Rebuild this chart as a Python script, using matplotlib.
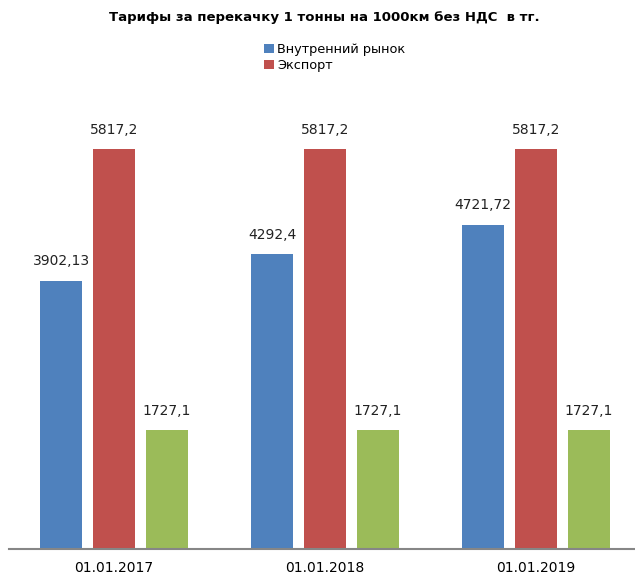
import matplotlib.pyplot as plt
import numpy as np

categories = ['01.01.2017', '01.01.2018', '01.01.2019']
domestic = [3902.13, 4292.4, 4721.72]
export = [5817.2, 5817.2, 5817.2]
third = [1727.1, 1727.1, 1727.1]
domestic_labels = ['3902,13', '4292,4', '4721,72']
export_labels = ['5817,2', '5817,2', '5817,2']
third_labels = ['1727,1', '1727,1', '1727,1']

colors = ['#4F81BD', '#C0504D', '#9BBB59']

fig = plt.figure(figsize=(6.35, 5.74), dpi=100)
ax = fig.add_axes([8.5 / 635, 25 / 574, 633 / 635, 481 / 574])

x = np.arange(len(categories))
w = 0.2
step = 0.25
series = [(domestic, domestic_labels, 'Внутренний рынок'),
          (export, export_labels, 'Экспорт'),
          (third, third_labels, None)]
handles = []
for i, (vals, labs, name) in enumerate(series):
    bars = ax.bar(x + (i - 1) * step, vals, w, color=colors[i],
                  linewidth=0, label=name)
    if name:
        handles.append(bars)
    for b, t in zip(bars, labs):
        ax.annotate(t, (b.get_x() + b.get_width() / 2, b.get_height()),
                    xytext=(0, 9), textcoords='offset points',
                    ha='center', va='bottom', fontsize=10, color='#222222')

ax.set_xlim(-0.5, 2.5)
ax.set_ylim(0, 7000)
ax.set_xticks(x)
ax.set_xticklabels(categories, fontsize=10)
ax.tick_params(axis='x', length=0, pad=9)
ax.set_yticks([])
for s in ['top', 'right', 'left']:
    ax.spines[s].set_visible(False)
ax.spines['bottom'].set_color('#868686')
ax.spines['bottom'].set_linewidth(1.5)

fig.text(0.51, 1 - 18 / 574, 'Тарифы за перекачку 1 тонны на 1000км без НДС  в тг.',
         ha='center', va='center', fontsize=9.5, fontweight='bold')
fig.legend(handles, ['Внутренний рынок', 'Экспорт'],
           loc='upper left', bbox_to_anchor=(258 / 635, 1 - 37 / 574),
           frameon=False, fontsize=9.3, handlelength=0.7, handleheight=0.7,
           handletextpad=0.3, labelspacing=0.2, borderpad=0)

fig.savefig('out.png', dpi=100)
